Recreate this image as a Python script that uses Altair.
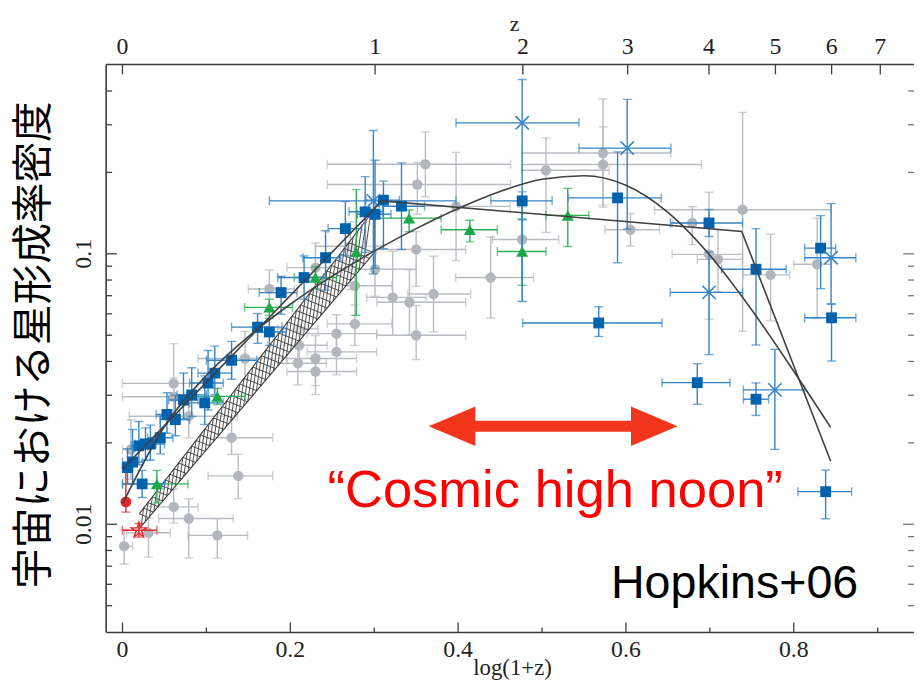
import altair as alt
import numpy as np
import pandas as pd

W, H = 815, 573
XMIN, XMAX = -0.0195, 0.9433
YMIN, YMAX = 0.003981, 0.5012

# ---------------- data (x = log(1+z), y = SFR density) ----------------
# gray compilation: x, y, x-range, y-error (dex down / dex up)
gray_x = [0.002, 0.031, 0.061, 0.079, 0.113, 0.138, 0.130, 0.010, 0.061, 0.061, 0.146, 0.079, 0.209,
          0.175, 0.2105, 0.2105, 0.230, 0.230, 0.255, 0.255, 0.277, 0.277, 0.301, 0.322, 0.342, 0.350,
          0.350, 0.3514, 0.361, 0.2715, 0.230, 0.3707, 0.3975, 0.4389, 0.4763, 0.5047, 0.5727, 0.5727,
          0.6054, 0.679, 0.739, 0.699, 0.7097, 0.7724, 0.8279]
gray_y = [0.0083, 0.0093, 0.0116, 0.0105, 0.0091, 0.0151, 0.0209, 0.0189, 0.0332, 0.0296, 0.041, 0.0251, 0.0394,
          0.0741, 0.0528, 0.0459, 0.041, 0.0367, 0.0507, 0.0434, 0.0551, 0.0762, 0.0877, 0.069, 0.0662, 0.050,
          0.1038, 0.1805, 0.2143, 0.1067, 0.0889, 0.071, 0.1497, 0.0817, 0.113, 0.2036, 0.2358, 0.2138,
          0.1227, 0.130, 0.1456, 0.0995, 0.0954, 0.0836, 0.0915]
gray_xlo = [0.0, 0.005, 0.031, 0.043, 0.078, 0.102, 0.096, 0.0, 0.0, 0.0, 0.09, 0.008, 0.178,
            0.15, 0.185, 0.173, 0.196, 0.196, 0.22, 0.22, 0.244, 0.244, 0.262, 0.291, 0.303, 0.303,
            0.303, 0.244, 0.244, 0.23, 0.196, 0.34, 0.33, 0.397, 0.441, 0.476, 0.4763, 0.4763,
            0.575, 0.655, 0.634, 0.655, 0.685, 0.74, 0.80]
gray_xhi = [0.012, 0.057, 0.090, 0.132, 0.149, 0.179, 0.179, 0.02, 0.09, 0.10, 0.196, 0.137, 0.243,
            0.205, 0.233, 0.244, 0.279, 0.279, 0.303, 0.303, 0.321, 0.321, 0.35, 0.362, 0.409, 0.409,
            0.409, 0.4625, 0.4625, 0.31, 0.279, 0.415, 0.462, 0.49, 0.52, 0.58, 0.6535, 0.69,
            0.64, 0.703, 0.844, 0.739, 0.739, 0.795, 0.844]
gray_dn = [0.066, 0.09, 0.06, 0.146, 0.084, 0.084, 0.062, 0.11, 0.13, 0.07, 0.08, 0.08, 0.08,
           0.08, 0.065, 0.07, 0.10, 0.085, 0.08, 0.085, 0.08, 0.11, 0.10, 0.14, 0.12, 0.09,
           0.136, 0.11, 0.12, 0.16, 0.09, 0.14, 0.2, 0.15, 0.23, 0.23, 0.2, 0.15,
           0.06, 0.08, 0.45, 0.24, 0.12, 0.17, 0.2]
gray_up = [0.062, 0.055, 0.066, 0.073, 0.062, 0.08, 0.066, 0.11, 0.147, 0.07, 0.10, 0.08, 0.07,
           0.07, 0.065, 0.055, 0.085, 0.06, 0.07, 0.06, 0.07, 0.07, 0.085, 0.17, 0.12, 0.11,
           0.066, 0.08, 0.12, 0.09, 0.09, 0.14, 0.2, 0.15, 0.12, 0.12, 0.2, 0.14,
           0.06, 0.06, 0.36, 0.23, 0.11, 0.15, 0.17]

# blue squares
sq_x = [0.006, 0.012, 0.0195, 0.0274, 0.0333, 0.045, 0.053, 0.063, 0.0727, 0.0825, 0.098, 0.102, 0.110,
        0.130, 0.0234, 0.161, 0.175, 0.189, 0.2164, 0.242, 0.2656, 0.2892, 0.301, 0.311, 0.3325,
        0.4763, 0.590, 0.5676, 0.699, 0.755, 0.832, 0.845, 0.685, 0.755, 0.838]
sq_y = [0.0162, 0.0170, 0.0195, 0.0198, 0.0198, 0.0209, 0.0255, 0.0244, 0.0288, 0.0301, 0.0281, 0.0333, 0.0362,
        0.0404, 0.0141, 0.0536, 0.0514, 0.0719, 0.0817, 0.0967, 0.1239, 0.143, 0.140, 0.158, 0.150,
        0.157, 0.161, 0.0555, 0.130, 0.0877, 0.105, 0.058, 0.0334, 0.0290, 0.0132]
sq_xlo = [0.0, 0.0, 0.01, 0.015, 0.02, 0.03, 0.04, 0.045, 0.055, 0.065, 0.08, 0.08, 0.09,
          0.1, 0.0, 0.13, 0.155, 0.163, 0.185, 0.215, 0.245, 0.27, 0.28, 0.29, 0.31,
          0.439, 0.531, 0.477, 0.653, 0.714, 0.813, 0.813, 0.643, 0.74, 0.805]
sq_xhi = [0.012, 0.024, 0.03, 0.04, 0.05, 0.06, 0.068, 0.08, 0.09, 0.1, 0.12, 0.12, 0.13,
          0.16, 0.05, 0.19, 0.195, 0.208, 0.24, 0.26, 0.285, 0.31, 0.32, 0.33, 0.36,
          0.512, 0.642, 0.643, 0.739, 0.791, 0.85, 0.874, 0.724, 0.77, 0.869]
sq_dn = [0.06, 0.08, 0.07, 0.06, 0.06, 0.06, 0.07, 0.06, 0.07, 0.08, 0.08, 0.1, 0.08,
         0.07, 0.05, 0.06, 0.05, 0.08, 0.08, 0.12, 0.1, 0.15, 0.2, 0.18, 0.16,
         0.07, 0.24, 0.05, 0.05, 0.28, 0.15, 0.16, 0.08, 0.06, 0.1]
sq_up = [0.07, 0.12, 0.09, 0.06, 0.07, 0.08, 0.08, 0.09, 0.1, 0.1, 0.1, 0.12, 0.1,
         0.07, 0.05, 0.05, 0.05, 0.06, 0.08, 0.1, 0.1, 0.13, 0.2, 0.07, 0.16,
         0.033, 0.17, 0.06, 0.05, 0.15, 0.12, 0.05, 0.07, 0.06, 0.08]

# blue crosses
cr_x = [0.299, 0.4763, 0.6015, 0.699, 0.8445, 0.7775]
cr_y = [0.157, 0.305, 0.246, 0.072, 0.0967, 0.0314]
cr_xlo = [0.175, 0.3975, 0.544, 0.6527, 0.813, 0.740]
cr_xhi = [0.3975, 0.544, 0.6535, 0.739, 0.874, 0.813]
cr_dn = [0.27, 0.66, 0.30, 0.23, 0.17, 0.22]
cr_up = [0.26, 0.16, 0.18, 0.15, 0.20, 0.15]

# green triangles
tr_x = [0.041, 0.113, 0.175, 0.230, 0.2786, 0.3416, 0.414, 0.4763, 0.5307]
tr_y = [0.0141, 0.0297, 0.0634, 0.0817, 0.1017, 0.1355, 0.1228, 0.102, 0.1387]
tr_xlo = [0.0, 0.078, 0.1455, 0.2046, 0.2786, 0.3007, 0.3798, 0.4468, 0.5047]
tr_xhi = [0.078, 0.146, 0.2026, 0.2549, 0.2786, 0.3798, 0.4468, 0.5047, 0.5558]
tr_dn = [0.07, 0.03, 0.03, 0.04, 0.235, 0.05, 0.045, 0.125, 0.115]
tr_up = [0.05, 0.03, 0.03, 0.04, 0.23, 0.03, 0.035, 0.12, 0.10]

# red circle and red star
rc_x, rc_y, rc_xlo, rc_xhi, rc_dn, rc_up = [0.004], [0.0121], [0.004], [0.004], [0.038], [0.127]
rs_x, rs_y, rs_xlo, rs_xhi, rs_dn, rs_up = [0.0195], [0.0095], [0.0], [0.041], [0.025], [0.025]

# fits
lineA_x = [0.0, 0.309, 0.738, 0.844]
lineA_y = [0.0160, 0.157, 0.121, 0.0171]
curveB_x = [0.0, 0.05, 0.1, 0.15, 0.2, 0.25, 0.3, 0.35, 0.4, 0.45, 0.5, 0.55, 0.6, 0.65, 0.7, 0.75, 0.8, 0.844]
curveB_y = [0.0119, 0.0230, 0.0355, 0.0494, 0.0651, 0.0827, 0.1023, 0.1239, 0.1471, 0.1701, 0.1886,
            0.1944, 0.1793, 0.1424, 0.0988, 0.0620, 0.0368, 0.0228]

# hatched band (x ends, lower and upper edges)
band_x = [0.02, 0.30]
band_lo = [0.00964, 0.1009]
band_hi = [0.01093, 0.1455]

# axes
x_tick_vals = [0.0, 0.1, 0.2, 0.3, 0.4, 0.5, 0.6, 0.7, 0.8, 0.9]
x_label_vals = [0.0, 0.2, 0.4, 0.6, 0.8]
x_labels = ["0", "0.2", "0.4", "0.6", "0.8"]
z_vals = [0, 1, 2, 3, 4, 5, 6, 7]
z_labels = ["0", "1", "2", "3", "4", "5", "6", "7"]
y_major = [0.01, 0.1]
y_labels = ["0.01", "0.1"]
y_minor = [0.005, 0.006, 0.007, 0.008, 0.009, 0.02, 0.03, 0.04, 0.05, 0.06, 0.07, 0.08, 0.09, 0.2, 0.3, 0.4]

ytitle = "宇宙における星形成率密度"
annot_main = "“Cosmic high noon”"
annot_ref = "Hopkins+06"

# ---------------- build ----------------
xs = alt.Scale(domain=[XMIN, XMAX], nice=False, zero=False)
ys = alt.Scale(type="log", domain=[YMIN, YMAX], nice=False)
SERIF = "Liberation Serif"
STAR = ("M 0 -1 L 0.225 -0.309 L 0.951 -0.309 L 0.363 0.118 L 0.588 0.809 L 0 0.382 "
        "L -0.588 0.809 L -0.363 0.118 L -0.951 -0.309 L -0.225 -0.309 Z")


def sdf(x, y, xlo, xhi, dn, up):
    d = pd.DataFrame({"x": x, "y": y, "xlo": xlo, "xhi": xhi, "dn": dn, "up": up})
    d["ylo"] = d["y"] * 10 ** (-d["dn"])
    d["yhi"] = d["y"] * 10 ** (d["up"])
    return d


def errbars(d, color, sw=1.4, cap=9):
    hx = d[d["xhi"] > d["xlo"]]
    xb = alt.Chart(hx).mark_rule(color=color, strokeWidth=sw, clip=True).encode(
        x=alt.X("xlo:Q", scale=xs, axis=None), x2="xhi:Q", y=alt.Y("y:Q", scale=ys, axis=None))
    yb = alt.Chart(d).mark_rule(color=color, strokeWidth=sw, clip=True).encode(
        x=alt.X("x:Q", scale=xs, axis=None), y=alt.Y("ylo:Q", scale=ys, axis=None), y2="yhi:Q")
    xc = pd.concat([hx[["xlo", "y"]].rename(columns={"xlo": "cx"}),
                    hx[["xhi", "y"]].rename(columns={"xhi": "cx"})])
    yc = pd.concat([d[["x", "ylo"]].rename(columns={"ylo": "cy"}),
                    d[["x", "yhi"]].rename(columns={"yhi": "cy"})])
    xcap = alt.Chart(xc).mark_tick(orient="vertical", color=color, size=cap, thickness=sw, clip=True).encode(
        x=alt.X("cx:Q", scale=xs, axis=None), y=alt.Y("y:Q", scale=ys, axis=None))
    ycap = alt.Chart(yc).mark_tick(orient="horizontal", color=color, size=cap, thickness=sw, clip=True).encode(
        x=alt.X("x:Q", scale=xs, axis=None), y=alt.Y("cy:Q", scale=ys, axis=None))
    return [xb, yb, xcap, ycap]


def pts(d, **kw):
    return alt.Chart(d).mark_point(opacity=1, clip=True, **kw).encode(
        x=alt.X("x:Q", scale=xs, axis=None), y=alt.Y("y:Q", scale=ys, axis=None))


gray = sdf(gray_x, gray_y, gray_xlo, gray_xhi, gray_dn, gray_up)
sq = sdf(sq_x, sq_y, sq_xlo, sq_xhi, sq_dn, sq_up)
cr = sdf(cr_x, cr_y, cr_xlo, cr_xhi, cr_dn, cr_up)
tr = sdf(tr_x, tr_y, tr_xlo, tr_xhi, tr_dn, tr_up)
rc = sdf(rc_x, rc_y, rc_xlo, rc_xhi, rc_dn, rc_up)
rs = sdf(rs_x, rs_y, rs_xlo, rs_xhi, rs_dn, rs_up)

GRAY, BLUE, BLUEBAR, GREEN, RED = "#b3b7bd", "#0062ad", "#3483c6", "#1aa84a", "#e3262b"

layers = []
layers += errbars(gray, "#b9bdc3")
layers.append(pts(gray, shape="circle", filled=True, size=110, color=GRAY))

# hatched band
lo_l = np.log10(band_lo)
hi_l = np.log10(band_hi)
band_df = pd.DataFrame({"x": band_x, "lo": band_lo, "hi": band_hi})
layers.append(alt.Chart(band_df).mark_area(color="white", opacity=0.55, clip=True).encode(
    x=alt.X("x:Q", scale=xs, axis=None), y=alt.Y("lo:Q", scale=ys, axis=None), y2="hi:Q"))


def edge(xv, lv):
    return np.interp(xv, band_x, lv)


hx0 = np.arange(band_x[0], band_x[1], 0.0052)
rows = []
for xi in hx0:
    g = 0.158 * (edge(xi, hi_l) - edge(xi, lo_l))
    for off in (1.3, -0.35):
        xj = xi + off * g
        if band_x[0] <= xj <= band_x[1]:
            rows.append({"x1": xi, "y1": 10 ** edge(xi, hi_l), "x2": xj, "y2": 10 ** edge(xj, lo_l)})
hatch = pd.DataFrame(rows)
layers.append(alt.Chart(hatch).mark_rule(color="#3a3a3a", strokeWidth=0.9, clip=True).encode(
    x=alt.X("x1:Q", scale=xs, axis=None), y=alt.Y("y1:Q", scale=ys, axis=None), x2="x2:Q", y2="y2:Q"))
for col in ("lo", "hi"):
    layers.append(alt.Chart(band_df).mark_line(color="#3a3a3a", strokeWidth=1.1, clip=True).encode(
        x=alt.X("x:Q", scale=xs, axis=None), y=alt.Y(col + ":Q", scale=ys, axis=None)))
edge_r = pd.DataFrame({"x": [band_x[1]], "lo": [band_lo[1]], "hi": [band_hi[1]]})
layers.append(alt.Chart(edge_r).mark_rule(color="#3a3a3a", strokeWidth=1.1).encode(
    x=alt.X("x:Q", scale=xs, axis=None), y=alt.Y("lo:Q", scale=ys, axis=None), y2="hi:Q"))

layers += errbars(tr, "#2ab152")
layers += errbars(sq, BLUEBAR)
layers += errbars(cr, BLUEBAR)
layers += errbars(rc, RED)
layers += errbars(rs, RED)
layers.append(pts(tr, shape="triangle-up", filled=True, size=150, color=GREEN))
layers.append(pts(sq, shape="square", filled=True, size=120, color=BLUE))
layers.append(pts(cr, shape="M -1 -1 L 1 1 M -1 1 L 1 -1", filled=False, size=180, color=BLUEBAR, strokeWidth=1.6))
layers.append(pts(rc, shape="circle", filled=True, size=120, color=RED))
layers.append(pts(rs, shape=STAR, filled=False, size=260, color=RED, strokeWidth=1.4))

# fits
la = pd.DataFrame({"x": lineA_x, "y": lineA_y})
cb = pd.DataFrame({"x": curveB_x, "y": curveB_y})
layers.append(alt.Chart(la).mark_line(color="#404040", strokeWidth=1.6, clip=True).encode(
    x=alt.X("x:Q", scale=xs, axis=None), y=alt.Y("y:Q", scale=ys, axis=None)))
layers.append(alt.Chart(cb).mark_line(color="#404040", strokeWidth=1.6, interpolate="monotone", clip=True).encode(
    x=alt.X("x:Q", scale=xs, axis=None), y=alt.Y("y:Q", scale=ys, axis=None)))

# frame (top, bottom, left; right edge lies just outside the window)
FR = "#3c3c3c"
fr = pd.DataFrame({"a": [0]})
layers.append(alt.Chart(fr).mark_rule(color=FR, strokeWidth=1.6).encode(x=alt.value(0), x2=alt.value(W), y=alt.value(0)))
layers.append(alt.Chart(fr).mark_rule(color=FR, strokeWidth=1.6).encode(x=alt.value(0), x2=alt.value(W), y=alt.value(H)))
layers.append(alt.Chart(fr).mark_rule(color=FR, strokeWidth=1.6).encode(x=alt.value(0), y=alt.value(0), y2=alt.value(H)))

# ticks
xt = pd.DataFrame({"v": x_tick_vals})
xt["major"] = xt["v"].isin(x_label_vals)
for maj, L in ((True, 10), (False, 5)):
    layers.append(alt.Chart(xt[xt["major"] == maj]).mark_rule(color=FR, strokeWidth=1.3).encode(
        x=alt.X("v:Q", scale=xs, axis=None), y=alt.value(H), y2=alt.value(H - L)))
zt = pd.DataFrame({"v": np.log10(1 + np.array(z_vals)), "t": z_labels})
layers.append(alt.Chart(zt).mark_rule(color=FR, strokeWidth=1.3).encode(
    x=alt.X("v:Q", scale=xs, axis=None), y=alt.value(0), y2=alt.value(10)))
for vals, L in ((y_major, 11), (y_minor, 6)):
    yt = pd.DataFrame({"v": vals})
    layers.append(alt.Chart(yt).mark_rule(color=FR, strokeWidth=1.3).encode(
        y=alt.Y("v:Q", scale=ys, axis=None), x=alt.value(0), x2=alt.value(L)))
    layers.append(alt.Chart(yt).mark_rule(color="#777777", strokeWidth=1.3).encode(
        y=alt.Y("v:Q", scale=ys, axis=None), x=alt.value(W - L), x2=alt.value(W)))

# tick labels & titles
xl = pd.DataFrame({"v": x_label_vals, "t": x_labels})
layers.append(alt.Chart(xl).mark_text(font=SERIF, fontSize=24, color="#222222", baseline="middle").encode(
    x=alt.X("v:Q", scale=xs, axis=None), y=alt.value(H + 18), text="t:N"))
layers.append(alt.Chart(zt).mark_text(font=SERIF, fontSize=24, color="#222222", baseline="middle").encode(
    x=alt.X("v:Q", scale=xs, axis=None), y=alt.value(-18), text="t:N"))
yl = pd.DataFrame({"v": y_major, "t": y_labels})
layers.append(alt.Chart(yl).mark_text(font=SERIF, fontSize=24, color="#222222", angle=270,
                                      baseline="middle", align="center").encode(
    y=alt.Y("v:Q", scale=ys, axis=None), x=alt.value(-22), text="t:N"))
layers.append(alt.Chart(pd.DataFrame({"t": ["log(1+z)"]})).mark_text(
    font=SERIF, fontSize=23, color="#222222", baseline="middle").encode(
    x=alt.value(410), y=alt.value(H + 36), text="t:N"))
layers.append(alt.Chart(pd.DataFrame({"t": ["z"]})).mark_text(
    font=SERIF, fontSize=22, color="#222222", baseline="middle").encode(
    x=alt.value(412), y=alt.value(-41), text="t:N"))
layers.append(alt.Chart(pd.DataFrame({"t": [ytitle]})).mark_text(
    font="Noto Sans CJK JP", fontSize=41, color="black", angle=270, baseline="middle", align="center").encode(
    x=alt.value(-72), y=alt.value(283), text="t:N"))

# annotations: double arrow and labels
ARW = "#f2361d"
layers.append(alt.Chart(fr).mark_rule(color=ARW, strokeWidth=11).encode(
    x=alt.value(347), x2=alt.value(555), y=alt.value(365)))
layers.append(alt.Chart(fr).mark_point(shape="M -1 0 L 1 -0.85 L 1 0.85 Z", size=2209, filled=True,
                                       opacity=1, color=ARW).encode(x=alt.value(349), y=alt.value(365)))
layers.append(alt.Chart(fr).mark_point(shape="M 1 0 L -1 -0.85 L -1 0.85 Z", size=2209, filled=True,
                                       opacity=1, color=ARW).encode(x=alt.value(553), y=alt.value(365)))
layers.append(alt.Chart(pd.DataFrame({"t": [annot_main]})).mark_text(
    font="Liberation Sans", fontSize=53, color="#ff0000", baseline="alphabetic").encode(
    x=alt.value(453), y=alt.value(446), text="t:N"))
layers.append(alt.Chart(pd.DataFrame({"t": [annot_ref]})).mark_text(
    font="Liberation Sans", fontSize=47, color="black", baseline="alphabetic").encode(
    x=alt.value(634), y=alt.value(538), text="t:N"))

chart = alt.layer(*layers).properties(
    width=W, height=H,
    padding={"left": 99, "top": 54, "right": 0, "bottom": 50},
    autosize=alt.AutoSizeParams(type="none"),
    background="white",
).configure_view(stroke=None)

chart.save("out.html", embed_options={"renderer": "svg", "actions": False})
